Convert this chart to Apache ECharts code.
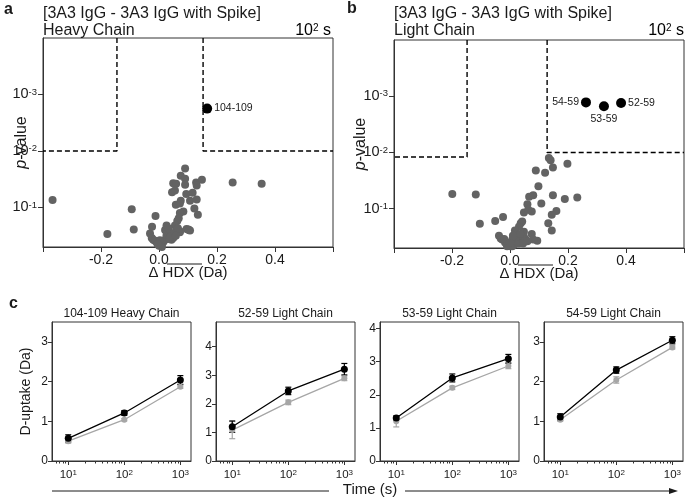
<!DOCTYPE html>
<html>
<head>
<meta charset="utf-8">
<script src="https://cdn.jsdelivr.net/npm/echarts@6/dist/echarts.min.js"></script>
<style>
html, body { margin: 0; padding: 0; background: #fff; }
#main { width: 687px; height: 499px; }
</style>
</head>
<body>
<div id="main"></div>
<script>
// volcano plots: [mean delta HDX (Da), -log10(p)]
let heavyGray = [
    [-0.367, 1.13], [-0.178, 0.53], [-0.094, 0.97], [-0.087, 0.61], [-0.012, 0.85], [-0.024, 0.66], [0.254, 1.44], [0.354, 1.42],
    [0.090, 1.69], [0.075, 1.56], [0.090, 1.51], [0.049, 1.43], [0.059, 1.42], [0.090, 1.40], [0.128, 1.44], [0.130, 1.39], [0.148, 1.49],
    [0.045, 1.27], [0.055, 1.30], [0.094, 1.24], [0.116, 1.26], [0.075, 1.12], [0.107, 1.12], [0.130, 1.14], [0.058, 1.05], [0.072, 1.07],
    [0.122, 0.98], [0.084, 0.93], [0.072, 0.90], [0.134, 0.87], [0.068, 0.81], [0.063, 0.76],
    [0.026, 0.68], [0.055, 0.68], [0.101, 0.61], [0.107, 0.59],
    [-0.031, 0.54], [-0.025, 0.46], [-0.020, 0.43], [-0.008, 0.39], [0.003, 0.36], [0.009, 0.33], [0.015, 0.39], [0.021, 0.43],
    [0.026, 0.51], [0.032, 0.54], [0.037, 0.56], [0.043, 0.51], [0.049, 0.46], [0.055, 0.53], [0.060, 0.56], [0.066, 0.59],
    [0.072, 0.56], [0.043, 0.43], [0.035, 0.44], [-0.014, 0.41], [0.003, 0.42], [0.021, 0.60], [0.032, 0.63], [0.049, 0.54],
    [0.061, 0.62], [0.072, 0.58], [0.095, 0.62], [0.103, 0.60], [0.010, 0.30], [0.000, 0.32], [-0.005, 0.35], [0.040, 0.48],
    [0.058, 0.50], [0.065, 0.63]
];
let heavyHits = [[0.166, 2.75]];
let heavyHitNames = ['104-109'];

let lightGray = [
    [-0.199, 1.26], [-0.118, 1.25], [-0.104, 0.73], [-0.051, 0.78], [-0.024, 0.85],
    [0.134, 1.90], [0.140, 1.86], [0.148, 1.73], [0.121, 1.64], [0.089, 1.68], [0.198, 1.80], [0.098, 1.40], [0.066, 1.21],
    [0.080, 1.24], [0.148, 1.24], [0.189, 1.17], [0.232, 1.20], [0.060, 1.08], [0.108, 1.09], [0.048, 0.93], [0.063, 0.98],
    [0.075, 0.95], [0.160, 0.96], [0.144, 0.89], [0.132, 0.74], [0.144, 0.61], [0.037, 0.74], [0.042, 0.77], [0.031, 0.68],
    [0.017, 0.61], [0.048, 0.59], [0.075, 0.55], [0.094, 0.43], [0.080, 0.45],
    [-0.038, 0.52], [-0.032, 0.47], [-0.027, 0.45], [-0.017, 0.40], [-0.009, 0.37], [-0.003, 0.34], [0.002, 0.33], [0.008, 0.45],
    [0.014, 0.36], [0.020, 0.42], [0.025, 0.45], [0.031, 0.47], [0.037, 0.42], [0.042, 0.46], [0.048, 0.50], [0.054, 0.45],
    [0.060, 0.42], [0.008, 0.33], [-0.010, 0.33], [0.014, 0.40], [0.030, 0.38], [0.045, 0.38], [-0.020, 0.46], [0.000, 0.40],
    [0.022, 0.50], [0.035, 0.55], [0.010, 0.52]
];
let lightHits = [[0.262, 2.89], [0.324, 2.82], [0.383, 2.88]];
let lightHitNames = ['54-59', '53-59', '52-59'];
let lightHitPos = ['left', 'bottom', 'right'];

// significance cut-offs [delta HDX, -log10(p)]
let heavyCutLeft = [-0.145, 2];
let heavyCutRight = [0.152, 2];
let lightCutLeft = [-0.148, 1.92];
let lightCutRight = [0.128, 2];

let pTicks = [1, 2, 3];
let hdxTicks = [-0.2, 0, 0.2, 0.4];

// uptake plots, black = 3A3 IgG, grey = 3A3 IgG with Spike
let times = [10, 100, 1000];
let timeTicks = [1, 2, 3];
let peptides = ['104-109 Heavy Chain', '52-59 Light Chain', '53-59 Light Chain', '54-59 Light Chain'];
let uptakeFree = [[0.57, 1.21, 2.04], [1.20, 2.45, 3.21], [1.30, 2.51, 3.09], [1.11, 2.29, 3.04]];
let errFree = [[0.09, 0.06, 0.11], [0.20, 0.13, 0.20], [0.06, 0.12, 0.13], [0.08, 0.08, 0.09]];
let uptakeSpike = [[0.50, 1.04, 1.87], [1.08, 2.05, 2.89], [1.20, 2.21, 2.87], [1.04, 2.04, 2.86]];
let errSpike = [[0.05, 0.03, 0.04], [0.30, 0.08, 0.08], [0.17, 0.05, 0.08], [0.04, 0.08, 0.04]];
let uptakeMax = [3.5, 4.86, 4.2, 3.5];
let uptakeTicks = [[0, 1, 2, 3], [0, 1, 2, 3, 4], [0, 1, 2, 3, 4], [0, 1, 2, 3]];

let font = '"Liberation Sans", Arial, sans-serif';
let ink = '#1a1a1a';
let axisCol = '#333';

// log minor tick positions
function minorLog(lo, hi, sign) {
    let out = [];
    for (let n = -5; n <= 5; n++) {
        for (let k = 2; k <= 9; k++) {
            let v = sign * (n + Math.log10(k));
            if (v > lo && v < hi) out.push(v);
        }
    }
    return out;
}

let supRich = {
    b: { fontSize: 14.5, color: ink, fontFamily: font },
    s: { fontSize: 9.5, color: ink, fontFamily: font, verticalAlign: 'top', lineHeight: 10 }
};
let supRichSmall = {
    b: { fontSize: 11.5, color: ink, fontFamily: font },
    s: { fontSize: 8, color: ink, fontFamily: font, verticalAlign: 'top', lineHeight: 9 }
};

let grids = [
    { left: 43, top: 38, width: 290, height: 209 },
    { left: 394, top: 40, width: 290, height: 208 }
];
let xAxes = [];
let yAxes = [];
let series = [];

function addVolcano(g, gray, hits, names, pos, cutL, cutR, pGap) {
    let xi = xAxes.length;
    xAxes.push({
        gridIndex: g, type: 'value', min: -0.4, max: 0.6, interval: 0.2, position: 'bottom',
        axisLine: { onZero: false, lineStyle: { color: axisCol, width: 1 } },
        axisTick: { length: 5, lineStyle: { color: axisCol } },
        axisLabel: {
            color: ink, fontSize: 14, fontFamily: font, margin: 6,
            customValues: hdxTicks,
            formatter: v => v.toFixed(1)
        },
        splitLine: { show: false },
        name: 'Δ HDX (Da)', nameLocation: 'middle', nameGap: 18, nameMoveOverlap: false,
        nameTextStyle: { color: ink, fontSize: 15, fontFamily: font }
    });
    let yi = yAxes.length;
    yAxes.push({
        gridIndex: g, type: 'value', min: 0.3, max: 4, position: 'left',
        axisLine: { onZero: false, lineStyle: { color: axisCol, width: 1 } },
        axisTick: { length: 5, customValues: pTicks, lineStyle: { color: axisCol } },
        axisLabel: {
            customValues: pTicks, margin: 6,
            formatter: v => '{b|10}{s|-' + v + '}', rich: supRich
        },
        splitLine: { show: false },
        name: '{i|p}-value', nameLocation: 'middle', nameGap: pGap, nameMoveOverlap: false,
        nameTextStyle: {
            color: ink, fontSize: 16, fontFamily: font,
            rich: { i: { fontStyle: 'italic', fontSize: 16, color: ink, fontFamily: font } }
        }
    });
    yAxes.push({
        gridIndex: g, type: 'value', min: 0.3, max: 4, position: 'left',
        axisLine: { show: false, onZero: false },
        axisTick: { length: 3, customValues: minorLog(0.3, 4, -1).map(v => -v), lineStyle: { color: axisCol } },
        axisLabel: { show: false },
        splitLine: { show: false }
    });
    series.push({
        type: 'scatter', xAxisIndex: xi, yAxisIndex: yi, data: gray,
        symbolSize: 8, itemStyle: { color: '#636363', opacity: 1 }, silent: true
    });
    let cutStyle = { color: '#000', width: 1.4, type: [5, 3] };
    series.push({
        type: 'line', xAxisIndex: xi, yAxisIndex: yi, symbol: 'none', lineStyle: cutStyle,
        data: [[cutL[0], 4], cutL, [-0.4, cutL[1]]]
    });
    series.push({
        type: 'line', xAxisIndex: xi, yAxisIndex: yi, symbol: 'none', lineStyle: cutStyle,
        data: [[cutR[0], 4], cutR, [0.6, cutR[1]]]
    });
    series.push({
        type: 'scatter', xAxisIndex: xi, yAxisIndex: yi, symbolSize: 10, itemStyle: { color: '#000', opacity: 1 },
        data: hits.map((h, i) => ({
            value: h,
            label: { show: true, formatter: names[i], position: pos[i], distance: 2, color: ink, fontSize: 10.5, fontFamily: font }
        }))
    });
}

addVolcano(0, heavyGray, heavyHits, heavyHitNames, ['right'], heavyCutLeft, heavyCutRight, 13);
addVolcano(1, lightGray, lightHits, lightHitNames, lightHitPos, lightCutLeft, lightCutRight, 25);

let lefts = [52, 216, 380, 544];
let logTimes = times.map(t => Math.log10(t));

function errorSeries(xi, yi, mean, err, color) {
    return {
        type: 'custom', xAxisIndex: xi, yAxisIndex: yi, silent: true,
        data: logTimes.map((t, i) => [t, mean[i] - err[i], mean[i] + err[i]]),
        renderItem: function (params, api) {
            let lo = api.coord([api.value(0), api.value(1)]);
            let hi = api.coord([api.value(0), api.value(2)]);
            let w = 3;
            let st = { stroke: color, lineWidth: 1.2 };
            return {
                type: 'group', children: [
                    { type: 'line', shape: { x1: lo[0], y1: lo[1], x2: hi[0], y2: hi[1] }, style: st },
                    { type: 'line', shape: { x1: lo[0] - w, y1: lo[1], x2: lo[0] + w, y2: lo[1] }, style: st },
                    { type: 'line', shape: { x1: hi[0] - w, y1: hi[1], x2: hi[0] + w, y2: hi[1] }, style: st }
                ]
            };
        }
    };
}

for (let k = 0; k < 4; k++) {
    let g = grids.length;
    grids.push({ left: lefts[k], top: 322, width: 139, height: 139 });
    let xi = xAxes.length;
    xAxes.push({
        gridIndex: g, type: 'value', min: 0.71, max: 3.19, position: 'bottom',
        axisLine: { onZero: false, lineStyle: { color: axisCol } },
        axisTick: { length: 4, customValues: timeTicks, lineStyle: { color: axisCol } },
        axisLabel: { customValues: timeTicks, margin: 8, formatter: v => '{b|10}{s|' + v + '}', rich: supRichSmall },
        splitLine: { show: false }
    });
    xAxes.push({
        gridIndex: g, type: 'value', min: 0.71, max: 3.19, position: 'bottom',
        axisLine: { show: false, onZero: false },
        axisTick: { length: 2.5, customValues: minorLog(0.71, 3.19, 1), lineStyle: { color: axisCol } },
        axisLabel: { show: false },
        splitLine: { show: false }
    });
    let yi = yAxes.length;
    yAxes.push({
        gridIndex: g, type: 'value', min: 0, max: uptakeMax[k], position: 'left',
        axisLine: { onZero: false, lineStyle: { color: axisCol } },
        axisTick: { length: 4, customValues: uptakeTicks[k], lineStyle: { color: axisCol } },
        axisLabel: { customValues: uptakeTicks[k], margin: 4, color: ink, fontSize: 12, fontFamily: font },
        splitLine: { show: false },
        name: k === 0 ? 'D-uptake (Da)' : '', nameLocation: 'middle', nameGap: 19, nameMoveOverlap: false,
        nameTextStyle: { color: ink, fontSize: 14, fontFamily: font }
    });
    series.push(errorSeries(xi, yi, uptakeSpike[k], errSpike[k], '#a6a6a6'));
    series.push({
        type: 'line', xAxisIndex: xi, yAxisIndex: yi,
        data: logTimes.map((t, i) => [t, uptakeSpike[k][i]]),
        symbol: 'circle', symbolSize: 6, lineStyle: { color: '#a6a6a6', width: 1.3 },
        itemStyle: { color: '#a6a6a6' }
    });
    series.push(errorSeries(xi, yi, uptakeFree[k], errFree[k], '#000'));
    series.push({
        type: 'line', xAxisIndex: xi, yAxisIndex: yi,
        data: logTimes.map((t, i) => [t, uptakeFree[k][i]]),
        symbol: 'circle', symbolSize: 7, lineStyle: { color: '#000', width: 1.3 },
        itemStyle: { color: '#000' }
    });
}

grids.forEach(g => { g.show = true; g.borderColor = axisCol; g.borderWidth = 1; g.containLabel = false; });

function txt(x, y, text, size, opts) {
    return {
        type: 'text', x: x, y: y, silent: true,
        style: Object.assign({
            text: text, fill: ink, font: size + 'px ' + font,
            textAlign: 'left', textVerticalAlign: 'middle', align: 'left', verticalAlign: 'middle'
        }, opts || {})
    };
}

let supTitleRich = {
    b: { fontSize: 16, fontFamily: font, color: ink },
    s: { fontSize: 10, fontFamily: font, color: ink, verticalAlign: 'top', lineHeight: 10 }
};

let graphics = [
    txt(4, 10, 'a', 16, { font: 'bold 16px ' + font }),
    txt(347, 9, 'b', 16, { font: 'bold 16px ' + font }),
    txt(9, 304, 'c', 16, { font: 'bold 16px ' + font }),
    txt(43, 14, '[3A3 IgG - 3A3 IgG with Spike]', 16),
    txt(43, 31, 'Heavy Chain', 16),
    txt(394, 14, '[3A3 IgG - 3A3 IgG with Spike]', 16),
    txt(394, 31, 'Light Chain', 16),
    {
        type: 'text', x: 331, y: 31, silent: true,
        style: { text: '{b|10}{s|2}{b| s}', align: 'right', verticalAlign: 'middle', textAlign: 'right', textVerticalAlign: 'middle', rich: supTitleRich }
    },
    {
        type: 'text', x: 684, y: 31, silent: true,
        style: { text: '{b|10}{s|2}{b| s}', align: 'right', verticalAlign: 'middle', textAlign: 'right', textVerticalAlign: 'middle', rich: supTitleRich }
    },
    // overlines above HDX
    { type: 'line', silent: true, shape: { x1: 167, y1: 264, x2: 202, y2: 264 }, style: { stroke: ink, lineWidth: 1 } },
    { type: 'line', silent: true, shape: { x1: 518, y1: 265, x2: 553, y2: 265 }, style: { stroke: ink, lineWidth: 1 } },
    // time axis arrow
    txt(370, 490, 'Time (s)', 15, { textAlign: 'center', align: 'center' }),
    { type: 'line', silent: true, shape: { x1: 52, y1: 491, x2: 329, y2: 491 }, style: { stroke: ink, lineWidth: 1 } },
    { type: 'line', silent: true, shape: { x1: 405, y1: 491, x2: 672, y2: 491 }, style: { stroke: ink, lineWidth: 1 } },
    { type: 'polygon', silent: true, shape: { points: [[678, 491], [669, 488], [669, 494]] }, style: { fill: ink } }
];
for (let k = 0; k < 4; k++) {
    graphics.push(txt(lefts[k] + 69.5, 314, peptides[k], 12, { textAlign: 'center', align: 'center' }));
}

let myChart = echarts.init(document.getElementById('main'));
myChart.setOption({
    animation: false,
    grid: grids,
    xAxis: xAxes,
    yAxis: yAxes,
    series: series,
    graphic: graphics
});
</script>
</body>
</html>
